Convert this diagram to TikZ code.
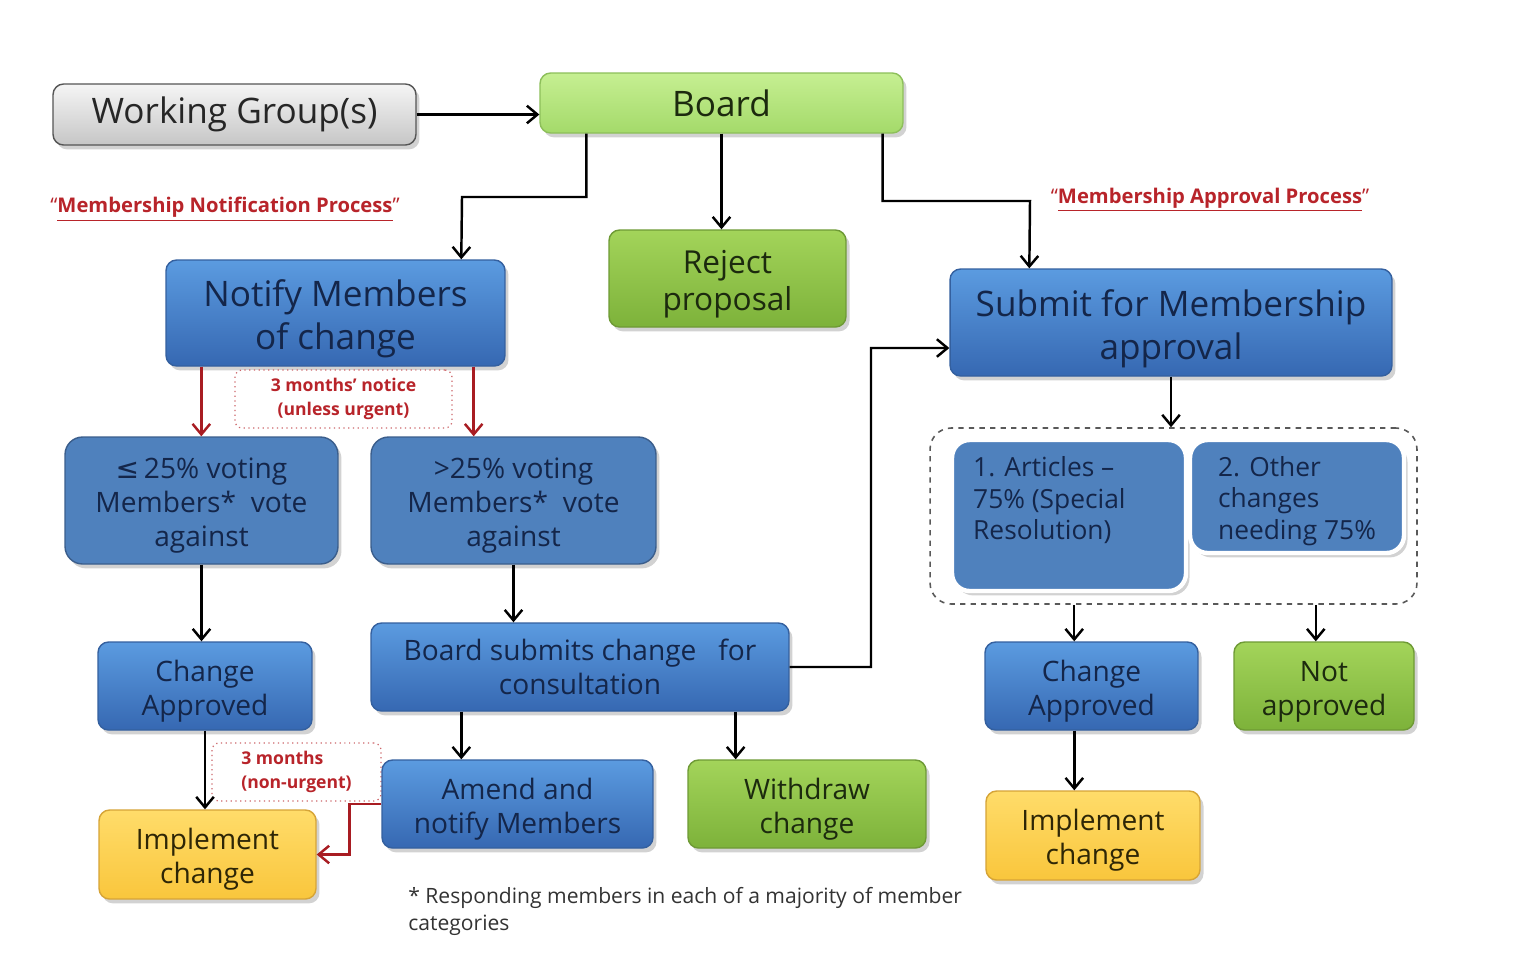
\documentclass[tikz,border=0pt]{standalone}
\usepackage{fontspec}
\setmainfont{Open Sans}
\newfontfamily\symfont{DejaVu Sans}
\usetikzlibrary{arrows.meta,shadows}

\definecolor{blueTop}{HTML}{5B9BE0}
\definecolor{blueBot}{HTML}{3668B2}
\definecolor{blueEdge}{HTML}{34609F}
\definecolor{blueFlat}{HTML}{4F81BD}
\definecolor{flatEdge}{HTML}{3B5E8C}
\definecolor{navyTxt}{HTML}{14264A}
\definecolor{limeTop}{HTML}{C6EF92}
\definecolor{limeBot}{HTML}{A4DA6A}
\definecolor{limeEdge}{HTML}{8DBF5A}
\definecolor{greenTop}{HTML}{A3D45A}
\definecolor{greenBot}{HTML}{7DB23A}
\definecolor{greenEdge}{HTML}{6E9A35}
\definecolor{greenTxt}{HTML}{1C2A0E}
\definecolor{goldTop}{HTML}{FFDC6A}
\definecolor{goldBot}{HTML}{F9C63C}
\definecolor{goldEdge}{HTML}{D6A437}
\definecolor{goldTxt}{HTML}{2E2606}
\definecolor{greyTop}{HTML}{F5F5F5}
\definecolor{greyBot}{HTML}{C6C6C6}
\definecolor{greyEdge}{HTML}{555555}
\definecolor{tagRed}{HTML}{B8242A}
\definecolor{arrRed}{HTML}{A81C22}

% first-line strut: pushes two-line labels a little lower in their boxes
\newcommand{\lift}{\rule{0pt}{1.1em}}

\begin{document}
\begin{tikzpicture}[x=0.02cm, y=-0.02cm, >={Straight Barb[length=6pt,width=10pt]},
  sz/.style 2 args={minimum width=#1cm, minimum height=#2cm},
  box/.style={rectangle, rounded corners=6pt, line width=0.8pt, inner sep=2pt, align=center,
    drop shadow={opacity=0.35, shadow xshift=2pt, shadow yshift=-2.5pt}},
  bluebox/.style={box, draw=blueEdge, top color=blueTop, bottom color=blueBot, text=navyTxt},
  flatblue/.style={box, draw=flatEdge, fill=blueFlat, text=navyTxt, rounded corners=10pt},
  innerblue/.style={box, draw=white, line width=2.5pt, fill=blueFlat, text=navyTxt, rounded corners=10pt},
  limebox/.style={box, draw=limeEdge, top color=limeTop, bottom color=limeBot, text=greenTxt},
  greenbox/.style={box, draw=greenEdge, top color=greenTop, bottom color=greenBot, text=greenTxt},
  goldbox/.style={box, draw=goldEdge, top color=goldTop, bottom color=goldBot, text=goldTxt},
  greybox/.style={box, draw=greyEdge, top color=greyTop, bottom color=greyBot, text=black!85},
  notebox/.style={draw=tagRed!70, dotted, line width=0.7pt, rounded corners=4pt, fill=white,
    text=tagRed, font=\fontsize{10}{13.6}\selectfont\bfseries, align=center},
  proclabel/.style={text=tagRed, font=\fontsize{11.5}{14}\selectfont\bfseries},
  big/.style={font=\fontsize{20}{24.5}\selectfont},
  large/.style={font=\fontsize{18}{21.5}\selectfont},
  mid/.style={font=\fontsize{16}{19.3}\selectfont},
  small/.style={font=\fontsize{15}{18.1}\selectfont},
  arr/.style={->, line width=1.4pt},
  redarr/.style={->, line width=1.4pt, draw=arrRed},
  ]
  %% canvas
  \fill[white] (0,0) rectangle (1517,971);
  \useasboundingbox (0,0) rectangle (1517,971);

  %% top row
  \node[greybox, big, sz={7.26}{1.22}] (wg) at (234.5,114.5) {Working Group(s)};
  \node[limebox, big, sz={7.26}{1.2}] (board) at (721.5,103) {Board};

  %% process labels
  \node[proclabel] (notifLbl) at (225,209)
    {\textmd{“}\underline{Membership Notification Process}\textmd{”}};
  \node[proclabel] (apprLbl) at (1210,200)
    {\textmd{“}\underline{Membership Approval Process}\textmd{”}};

  %% second row
  \node[bluebox, big, sz={6.78}{2.12}] (notify) at (335.5,313) {\lift Notify Members\\of change};
  \node[greenbox, large, sz={4.74}{1.94}] (reject) at (727.5,278.5) {\lift Reject\\proposal};
  \node[bluebox, big, sz={8.84}{2.14}] (submit) at (1171,322.5) {\lift Submit for Membership\\approval};

  %% notification branch
  \node[notebox, sz={4.34}{1.16}] (notice) at (343.5,399) {3 months’ notice\\(unless urgent)};
  \node[flatblue, mid, sz={5.46}{2.54}] (lowvote) at (201.5,500.5)
    {\lift{\symfont ≤}\,25\% voting\\Members*\ \ vote\\against};
  \node[flatblue, mid, sz={5.7}{2.54}] (highvote) at (513.5,500.5)
    {\lift>25\% voting\\Members*\ \ vote\\against};
  \node[bluebox, mid, sz={4.28}{1.76}] (apprL) at (205,686) {\lift Change\\Approved};
  \node[bluebox, mid, sz={8.36}{1.76}] (consult) at (580,667)
    {Board submits change \ \ for\\consultation};
  \node[notebox, sz={3.38}{1.16}, align=left] (nonurgent) at (296.5,772) {3 months\\(non-urgent)};
  \node[bluebox, mid, sz={5.42}{1.76}] (amend) at (517.5,804) {\lift Amend and\\notify Members};
  \node[greenbox, mid, sz={4.76}{1.76}] (withdraw) at (807,804) {\lift Withdraw\\change};
  \node[goldbox, mid, sz={4.34}{1.78}] (implL) at (207.5,854.5) {\lift Implement\\change};

  %% approval branch
  \node[draw=black!65, dashed, line width=0.9pt, rounded corners=12pt, sz={9.74}{3.52}] (grp) at (1173.5,516) {};
  \node[innerblue, sz={4.68}{3.02}] (articles) at (1069,515.5) {};
  \node[small, text=navyTxt, align=left, inner sep=0pt, anchor=north west] (articlesTxt)
    at ([xshift=0.46cm, yshift=-0.36cm]articles.north west) {1. Articles –\\75\% (Special\\Resolution)};
  \node[innerblue, small, align=left, sz={4.28}{2.26}] (other) at (1297,496.5)
    {\lift 2. Other\\changes\\needing 75\%};
  \node[bluebox, mid, sz={4.26}{1.76}] (apprR) at (1091.5,686) {\lift Change\\Approved};
  \node[greenbox, mid, sz={3.6}{1.76}] (notappr) at (1324,686) {\lift Not\\approved};
  \node[goldbox, mid, sz={4.28}{1.78}] (implR) at (1093,835.5) {\lift Implement\\change};

  %% footnote
  \node[anchor=north west, inner sep=0pt, align=left, text=black!80,
        font=\fontsize{12}{15.3}\selectfont] (foot) at (408,887)
    {* Responding members in each of a majority of member\\categories};

  %% connectors
  \draw[arr] (wg.east) -- (wg.east -| board.west);
  \draw[arr] ([xshift=0.94cm]board.south west) |- (462,197) -- ([xshift=5.92cm]notify.north west);
  \draw[arr] (board.south) -- (board.south |- reject.north);
  \draw[arr] ([xshift=-0.42cm]board.south east) |- (1030,201) -- ([xshift=1.6cm]submit.north west);
  \draw[redarr] ([xshift=0.72cm]notify.south west) coordinate (n1) -- (n1 |- lowvote.north);
  \draw[redarr] ([xshift=-0.64cm]notify.south east) coordinate (n2) -- (n2 |- highvote.north);
  \draw[arr] (lowvote.south) -- (lowvote.south |- apprL.north);
  \draw[arr] (highvote.south) -- (highvote.south |- consult.north);
  \draw[arr] (apprL.south) -- (apprL.south |- implL.north);
  \draw[arr] ([xshift=1.82cm]consult.south west) coordinate (c1) -- (c1 |- amend.north);
  \draw[arr] ([xshift=-1.08cm]consult.south east) coordinate (c2) -- (c2 |- withdraw.north);
  \draw[arr] (consult.east) -| (871,348) -- ([yshift=-0.51cm]submit.west);
  \draw[redarr] (amend.west) -- ++(-32,0) |- (implL.east);
  \draw[arr] (submit.south) -- (submit.south |- grp.north);
  \draw[arr] ([xshift=2.9cm]grp.south west) coordinate (g1) -- (g1 |- apprR.north);
  \draw[arr] ([xshift=-2.04cm]grp.south east) coordinate (g2) -- (g2 |- notappr.north);
  \draw[arr] ([xshift=1.8cm]apprR.south west) coordinate (a1) -- (a1 |- implR.north);
\end{tikzpicture}
\end{document}
